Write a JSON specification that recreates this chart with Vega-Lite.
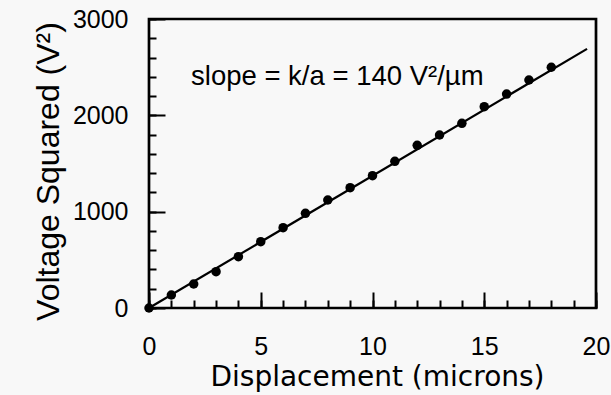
{
  "$schema": "https://vega.github.io/schema/vega-lite/v6.json",
  "width": 447,
  "height": 289,
  "autosize": {"type": "none"},
  "padding": {"left": 149, "top": 19, "right": 15, "bottom": 87},
  "background": "#f8f8f8",
  "config": {
    "view": {"stroke": "black", "strokeWidth": 2.7},
    "font": "Liberation Sans"
  },
  "datasets": {
    "pts": [
      {"d": 0, "v": 0}, {"d": 1, "v": 135}, {"d": 2, "v": 249}, {"d": 3, "v": 377},
      {"d": 4, "v": 533}, {"d": 5, "v": 688}, {"d": 6, "v": 834}, {"d": 7, "v": 983},
      {"d": 8, "v": 1121}, {"d": 9, "v": 1249}, {"d": 10, "v": 1374}, {"d": 11, "v": 1523},
      {"d": 12, "v": 1689}, {"d": 13, "v": 1796}, {"d": 14, "v": 1917}, {"d": 15, "v": 2090},
      {"d": 16, "v": 2221}, {"d": 17, "v": 2367}, {"d": 18, "v": 2499}
    ],
    "fit": [{"d": 0, "v": 0}, {"d": 19.6, "v": 2690}],
    "note": [{"d": 1.88, "v": 2315, "t": "slope = k/a = 140 V²/µm"}]
  },
  "resolve": {"axis": {"x": "independent", "y": "independent"}},
  "layer": [
    {
      "data": {"name": "fit"},
      "mark": {"type": "line", "color": "black", "strokeWidth": 2.2},
      "encoding": {
        "x": {
          "field": "d", "type": "quantitative",
          "scale": {"domain": [0, 20], "nice": false},
          "axis": {
            "orient": "bottom",
            "title": null,
            "labels": false,
            "domain": false,
            "grid": false,
            "values": [0,1,2,3,4,5,6,7,8,9,10,11,12,13,14,15,16,17,18,19,20],
            "tickColor": "black",
            "tickWidth": 2,
            "tickSize": 8,
            "offset": -8
          }
        },
        "y": {
          "field": "v", "type": "quantitative",
          "scale": {"domain": [0, 3000], "nice": false},
          "axis": {
            "orient": "left",
            "title": null,
            "labels": false,
            "domain": false,
            "grid": false,
            "values": [0,200,400,600,800,1000,1200,1400,1600,1800,2000,2200,2400,2600,2800,3000],
            "tickColor": "black",
            "tickWidth": 2,
            "tickSize": 7,
            "offset": -7
          }
        }
      }
    },
    {
      "data": {"name": "pts"},
      "mark": {"type": "circle", "color": "black", "opacity": 1, "size": 90},
      "encoding": {
        "x": {
          "field": "d", "type": "quantitative",
          "axis": {
            "orient": "bottom",
            "title": "Displacement (microns)",
            "values": [0, 5, 10, 15, 20],
            "labelOverlap": false,
            "labelFontSize": 25,
            "labelColor": "black",
            "labelBaseline": "alphabetic",
            "labelPadding": 46,
            "labelFlush": false,
            "tickColor": "black",
            "tickWidth": 2,
            "tickSize": 16,
            "offset": -16,
            "domain": false,
            "grid": false,
            "titleFont": "DejaVu Sans",
            "titleFontSize": 28,
            "titleFontWeight": "normal",
            "titleColor": "black",
            "titleBaseline": "alphabetic",
            "titleX": 228,
            "titleY": 93
          }
        },
        "y": {
          "field": "v", "type": "quantitative",
          "axis": {
            "orient": "left",
            "title": "Voltage Squared (V²)",
            "values": [0, 1000, 2000, 3000],
            "format": "d",
            "labelOverlap": false,
            "labelFontSize": 25,
            "labelColor": "black",
            "labelPadding": 21,
            "labelFlush": false,
            "tickColor": "black",
            "tickWidth": 2,
            "tickSize": 16,
            "offset": -16,
            "domain": false,
            "grid": false,
            "titleFontSize": 32,
            "titleFontWeight": "normal",
            "titleColor": "black",
            "titleAngle": -90,
            "titleBaseline": "alphabetic",
            "titleAlign": "center",
            "titleX": -107,
            "titleY": 152
          }
        }
      }
    },
    {
      "data": {"name": "note"},
      "mark": {"type": "text", "align": "left", "baseline": "alphabetic", "fontSize": 27.5, "color": "black"},
      "encoding": {
        "x": {"field": "d", "type": "quantitative", "axis": null},
        "y": {"field": "v", "type": "quantitative", "axis": null},
        "text": {"field": "t"}
      }
    }
  ]
}
